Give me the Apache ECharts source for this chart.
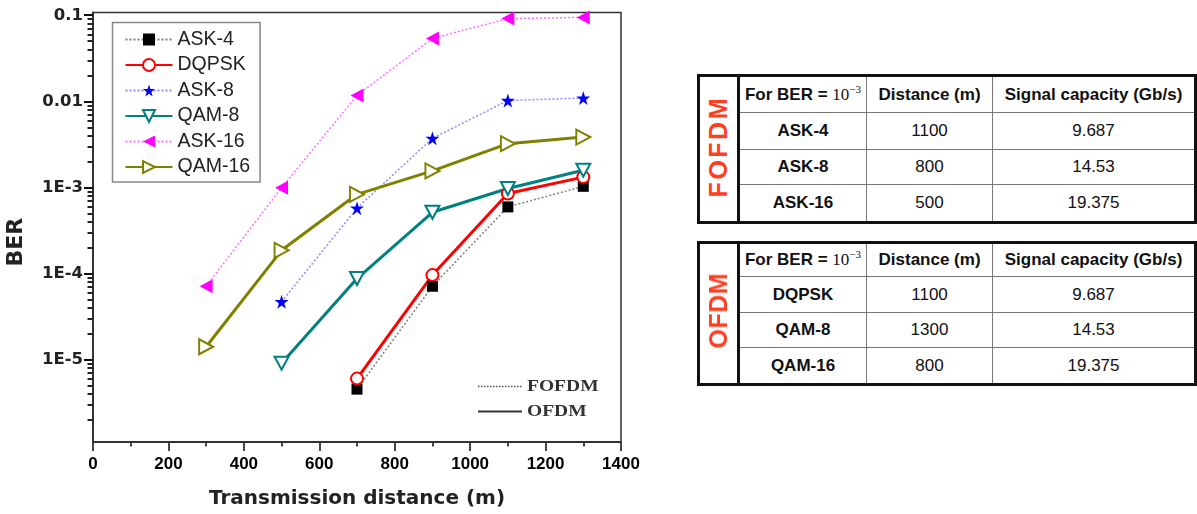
<!DOCTYPE html>
<html>
<head>
<meta charset="utf-8">
<script src="https://cdn.jsdelivr.net/npm/echarts@6/dist/echarts.min.js"></script>
<style>
  html, body { margin:0; padding:0; background:#fff; width:1197px; height:514px; overflow:hidden; }
  #chart { position:absolute; left:0; top:0; width:1197px; height:514px; }
  .tbl { position:absolute; left:697px; border-collapse:collapse; table-layout:fixed;
         font-family:'Liberation Sans', Arial, sans-serif; font-size:17px; color:#111;
         border:3px solid #111; background:#fff; }
  .tbl td { border:1px solid #777; text-align:center; vertical-align:middle; padding:0; white-space:nowrap; }
  .tbl td.lab { border-left:2px solid #111; border-right:3px solid #111; border-bottom:3px solid #111; border-top:2px solid #111; }
  .tbl td.b { font-weight:bold; }
  .tbl .t { font-family:'Liberation Serif', 'Times New Roman', serif; font-weight:normal; }
  .tbl sup { font-size:11px; vertical-align:7px; line-height:0; }
  .labtxt { writing-mode:vertical-rl; transform:rotate(180deg); font-weight:bold; font-size:25px;
            color:#ff3d1f; display:inline-block; line-height:1; }
</style>
</head>
<body>
<div id="chart"></div>

<table class="tbl" id="t1" style="top:74px;">
  <colgroup><col style="width:41px"><col style="width:129px"><col style="width:128px"><col style="width:205px"></colgroup>
  <tbody id="t1body"></tbody>
</table>
<table class="tbl" id="t2" style="top:241px;">
  <colgroup><col style="width:41px"><col style="width:129px"><col style="width:128px"><col style="width:205px"></colgroup>
  <tbody id="t2body"></tbody>
</table>

<script>
// ---------------- data ----------------
const xTicks = [0, 200, 400, 600, 800, 1000, 1200, 1400];
const yTickLabels = { '-1': '0.1', '-2': '0.01', '-3': '1E-3', '-4': '1E-4', '-5': '1E-5' };
const yMajorTicks = [1e-5, 1e-4, 1e-3, 1e-2, 1e-1];
const yMin = 1.12e-6;
const yMax = 0.1083;

const seriesNames = ['ASK-4', 'DQPSK', 'ASK-8', 'QAM-8', 'ASK-16', 'QAM-16'];

const ask4X   = [700, 900, 1100, 1300];
const ask4Y   = [4.6e-6, 7.2e-5, 6.0e-4, 1.04e-3];
const dqpskX  = [700, 900, 1100, 1300];
const dqpskY  = [6.1e-6, 9.7e-5, 8.6e-4, 1.33e-3];
const ask8X   = [500, 700, 900, 1100, 1300];
const ask8Y   = [4.75e-5, 5.8e-4, 3.75e-3, 0.0103, 0.011];
const qam8X   = [500, 700, 900, 1100, 1300];
const qam8Y   = [9.2e-6, 8.85e-5, 5.2e-4, 9.8e-4, 1.6e-3];
const ask16X  = [300, 500, 700, 900, 1100, 1300];
const ask16Y  = [7.2e-5, 1.0e-3, 0.0118, 0.054, 0.092, 0.095];
const qam16X  = [300, 500, 700, 900, 1100, 1300];
const qam16Y  = [1.43e-5, 1.88e-4, 8.4e-4, 1.57e-3, 3.25e-3, 3.88e-3];

// minor tick marks of the log axis (2..9 in each decade)
const minorDecades = [1e-6, 1e-5, 1e-4, 1e-3, 1e-2];
const minorMantissas = [2, 3, 4, 5, 6, 7, 8, 9];

// tables
const tableHeader = ['For BER = ', 'Distance (m)', 'Signal capacity (Gb/s)'];
const fofdmRows = [['ASK-4', '1100', '9.687'], ['ASK-8', '800', '14.53'], ['ASK-16', '500', '19.375']];
const ofdmRows  = [['DQPSK', '1100', '9.687'], ['QAM-8', '1300', '14.53'], ['QAM-16', '800', '19.375']];

// ---------------- tables ----------------
function buildTable(bodyId, label, rows, heights, spacing) {
  const tb = document.getElementById(bodyId);
  let html = '<tr style="height:' + heights[0] + 'px">' +
    '<td class="lab" rowspan="4"><span class="labtxt" style="letter-spacing:' + spacing + 'px">' + label + '</span></td>' +
    '<td class="b">' + tableHeader[0] + '<span class="t">10<sup>&minus;3</sup></span></td>' +
    '<td class="b">' + tableHeader[1] + '</td><td class="b">' + tableHeader[2] + '</td></tr>';
  rows.forEach((r, i) => {
    html += '<tr style="height:' + heights[i + 1] + 'px"><td class="b">' + r[0] + '</td><td>' + r[1] + '</td><td>' + r[2] + '</td></tr>';
  });
  tb.innerHTML = html;
}
buildTable('t1body', 'FOFDM', fofdmRows, [37, 36.5, 35, 38], 2.5);
buildTable('t2body', 'OFDM', ofdmRows, [34, 36, 35, 37], 0.5);

// ---------------- chart ----------------
const pair = (xs, ys) => xs.map((x, i) => [x, ys[i]]);
const yMinorTicks = [];
minorDecades.forEach(d => minorMantissas.forEach(m => {
  const v = d * m;
  if (v >= yMin && v <= yMax) yMinorTicks.push(v);
}));

const STAR = 'path://M50,0 L61.8,36.2 L100,36.2 L69.1,58.6 L80.9,95.1 L50,72.7 L19.1,95.1 L30.9,58.6 L0,36.2 L38.2,36.2 Z';
const TRI_DOWN = 'path://M0,0 L100,0 L50,90 Z';
const TRI_LEFT = 'path://M100,0 L100,100 L0,50 Z';
const TRI_RIGHT = 'path://M0,0 L0,100 L90,50 Z';

const insetGraphics = [
  { id: 'fl', type: 'line', shape: { x1: 478, y1: 386.5, x2: 522, y2: 386.5 }, style: { stroke: '#555', lineWidth: 1.5, lineDash: [1.5, 1.5] } },
  { id: 'ol', type: 'line', shape: { x1: 478, y1: 411.5, x2: 522, y2: 411.5 }, style: { stroke: '#333', lineWidth: 2 } },
  { id: 'ft', type: 'text', x: 527, y: 386.5, scaleX: 1.22, style: { text: 'FOFDM', font: 'bold 16px "Liberation Serif"', fill: '#333', verticalAlign: 'middle' } },
  { id: 'ot', type: 'text', x: 527, y: 411.5, scaleX: 1.22, style: { text: 'OFDM', font: 'bold 16px "Liberation Serif"', fill: '#333', verticalAlign: 'middle' } }
];

const chart = echarts.init(document.getElementById('chart'));
chart.setOption({
  animation: false,
  backgroundColor: '#fff',
  grid: { left: 93, top: 12.5, right: 576, bottom: 72, show: true, borderColor: '#333', borderWidth: 1.5, backgroundColor: 'transparent' },
  legend: {
    data: seriesNames,
    orient: 'vertical',
    left: 112.5, top: 22.5,
    padding: [7, 10, 5, 12],
    itemGap: 5.5,
    itemWidth: 47, itemHeight: 15,
    borderColor: '#888', borderWidth: 1.5, backgroundColor: '#fff',
    textStyle: { fontFamily: 'Liberation Sans', fontSize: 19.5, color: '#222' }
  },
  xAxis: {
    type: 'value', min: xTicks[0], max: xTicks[xTicks.length - 1], interval: 200,
    name: 'Transmission distance (m)', nameLocation: 'middle', nameGap: 47,
    nameTextStyle: { fontFamily: 'DejaVu Sans', fontWeight: 'bold', fontSize: 20, color: '#222' },
    axisLine: { lineStyle: { color: '#333', width: 2 } },
    axisTick: { show: true, inside: false, length: 9, lineStyle: { color: '#333', width: 1.8 } },
    minorTick: { show: true, splitNumber: 2, length: 4.5, lineStyle: { color: '#333', width: 1.8 } },
    axisLabel: { margin: 14, fontFamily: 'Liberation Sans', fontWeight: 'bold', fontSize: 17, color: '#000',
                 formatter: v => String(v) },
    splitLine: { show: false }
  },
  yAxis: {
    type: 'log', logBase: 10, min: yMin, max: yMax,
    name: 'BER', nameLocation: 'middle', nameGap: 66,
    nameTextStyle: { fontFamily: 'DejaVu Sans', fontWeight: 'bold', fontSize: 22, color: '#222', padding: [0, 30, 0, 0] },
    axisLine: { show: true, lineStyle: { color: '#333', width: 2 } },
    axisTick: { show: false },
    axisLabel: {
      margin: 10, fontFamily: 'DejaVu Sans', fontWeight: 'bold', fontSize: 16.5, color: '#222',
      formatter: v => {
        const e = Math.log10(v);
        const r = Math.round(e);
        return Math.abs(e - r) < 1e-6 && yTickLabels[String(r)] ? yTickLabels[String(r)] : '';
      }
    },
    splitLine: { show: false }
  },
  graphic: insetGraphics,
  series: [
    {
      name: 'ASK-4', type: 'line', data: pair(ask4X, ask4Y), color: '#000',
      symbol: 'rect', symbolSize: 11,
      lineStyle: { color: '#808080', width: 1.5, type: [2, 2] },
      itemStyle: { color: '#000' }
    },
    {
      name: 'DQPSK', type: 'line', data: pair(dqpskX, dqpskY), color: '#ff0000',
      symbol: 'circle', symbolSize: 12,
      lineStyle: { color: '#ff0000', width: 3 },
      itemStyle: { color: '#fff', borderColor: '#ff0000', borderWidth: 2 }
    },
    {
      name: 'ASK-8', type: 'line', data: pair(ask8X, ask8Y), color: '#0000ff',
      symbol: STAR, symbolSize: 14,
      lineStyle: { color: '#8c8cff', width: 1.5, type: [2, 2] },
      itemStyle: { color: '#0000ff' }
    },
    {
      name: 'QAM-8', type: 'line', data: pair(qam8X, qam8Y), color: '#008080',
      symbol: TRI_DOWN, symbolSize: [14, 13],
      lineStyle: { color: '#008080', width: 3 },
      itemStyle: { color: '#fff', borderColor: '#008080', borderWidth: 2 }
    },
    {
      name: 'ASK-16', type: 'line', data: pair(ask16X, ask16Y), color: '#ff00ff',
      symbol: TRI_LEFT, symbolSize: [13, 14],
      lineStyle: { color: '#ff70ff', width: 1.5, type: [2, 2] },
      itemStyle: { color: '#ff00ff' }
    },
    {
      name: 'QAM-16', type: 'line', data: pair(qam16X, qam16Y), color: '#808000',
      symbol: TRI_RIGHT, symbolSize: [14, 15],
      lineStyle: { color: '#808000', width: 3 },
      itemStyle: { color: '#fff', borderColor: '#808000', borderWidth: 2 }
    }
  ]
});

// y-axis tick marks (major + minor), placed through the axis scale
const axisX = chart.convertToPixel({ xAxisIndex: 0 }, xTicks[0]);
const tickGraphics = [];
yMajorTicks.forEach((v, i) => {
  const y = Math.round(chart.convertToPixel({ yAxisIndex: 0 }, v));
  tickGraphics.push({ id: 'ymaj' + i, type: 'rect', z: 100, shape: { x: axisX - 9, y: y - 1, width: 9, height: 2 }, style: { fill: '#111' } });
});
yMinorTicks.forEach((v, i) => {
  const y = Math.round(chart.convertToPixel({ yAxisIndex: 0 }, v));
  tickGraphics.push({ id: 'ymin' + i, type: 'rect', z: 100, shape: { x: axisX - 5.5, y: y - 1, width: 5.5, height: 2 }, style: { fill: '#222' } });
});
chart.setOption({ graphic: insetGraphics.concat(tickGraphics) });
</script>
</body>
</html>
